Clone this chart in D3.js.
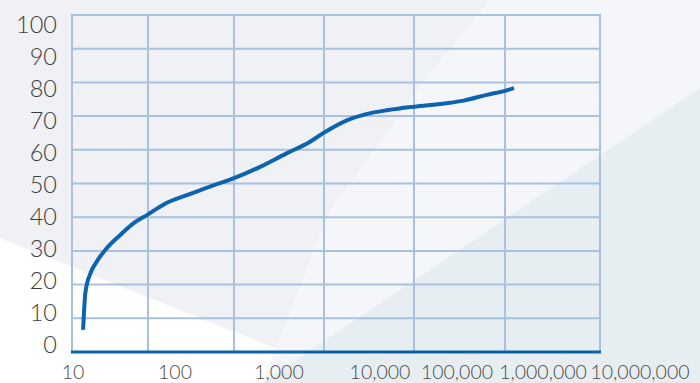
<!DOCTYPE html>
<html>
<head>
<meta charset="utf-8">
<script src="https://cdn.jsdelivr.net/npm/d3@7"></script>
<style>
  html, body { margin: 0; padding: 0; background: #eff1f5; }
  svg { display: block; }
  text { font-family: Lato, "Open Sans", sans-serif; font-weight: 300; }
</style>
</head>
<body>
<svg id="chart" width="700" height="383"></svg>
<script>
// Cumulative share (%) against size, log-scaled x
const sizes  = [14, 15, 17.6, 20.7, 28.9, 43.5, 65.5, 98, 158, 288, 526, 1000, 1900, 3750, 7000,
                10000, 18500, 29400, 51700, 100000, 224000, 352000, 628000, 1000000, 1244000];
const values = [6.6, 17.6, 23.5, 26.5, 30.9, 34.8, 38.3, 40.7, 44.0, 46.6, 49.1, 51.6, 54.8, 58.8, 62.4,
                65.1, 68.9, 70.6, 71.8, 72.8, 73.8, 74.6, 76.3, 77.5, 78.3];
const xTicks = [10, 100, 1000, 10000, 100000, 1000000, 10000000];
const yTicks = [0, 10, 20, 30, 40, 50, 60, 70, 80, 90, 100];

const svg = d3.select("#chart");

// decorative background facets
const bg = svg.append("g");
bg.append("rect").attr("width", 700).attr("height", 383).attr("fill", "#eff1f5");
const facet = (pts, fill) => bg.append("path")
  .attr("d", d3.line()(pts) + "Z").attr("fill", fill);
facet([[0, 238], [362, 383], [0, 383]], "#ffffff");
facet([[490, 0], [700, 0], [700, 88], [262, 383], [330, 210], [430, 73]], "#f4f6f9");
facet([[262, 383], [700, 88], [700, 383]], "#e7eef1");

// scales (grid cells are slightly uneven per decade)
const x = d3.scaleLog().domain(xTicks).range([72, 148, 234, 324, 414, 505, 600]);
const y = d3.scaleLinear().domain([0, 100]).range([352, 15]);
const xLabel = d3.scaleLog().domain(xTicks).range([73, 175, 279, 380, 457, 543, 640]);
const yLabel = d3.scaleLinear().domain([0, 100]).range([344.5, 25]);

// grid
const grid = svg.append("g").attr("stroke", "#a7c1df").attr("stroke-width", 2);
grid.selectAll("line.v").data(xTicks).join("line").attr("class", "v")
  .attr("x1", d => x(d)).attr("x2", d => x(d))
  .attr("y1", y(100)).attr("y2", y(0));
grid.selectAll("line.h").data(yTicks).join("line").attr("class", "h")
  .attr("x1", x(10) - 1).attr("x2", x(10000000) + 1)
  .attr("y1", d => y(d)).attr("y2", d => y(d));

// baseline
svg.append("line")
  .attr("x1", x(10) - 1).attr("x2", x(10000000) + 1)
  .attr("y1", y(0)).attr("y2", y(0))
  .attr("stroke", "#0b64a6").attr("stroke-width", 3);

// curve
svg.append("path")
  .datum(sizes.map((s, i) => [s, values[i]]))
  .attr("fill", "none")
  .attr("stroke", "#0d63ad")
  .attr("stroke-width", 4)
  .attr("d", d3.line().x(d => x(d[0])).y(d => y(d[1])).curve(d3.curveMonotoneX));

// axis labels
const fmt = d3.format(",");
svg.append("g").selectAll("text").data(yTicks).join("text")
  .attr("x", 57).attr("y", d => yLabel(d)).attr("dy", "0.36em")
  .attr("text-anchor", "end").attr("fill", "#3d3d3d").attr("font-size", 23.5)
  .text(d => d);
svg.append("g").selectAll("text").data(xTicks).join("text")
  .attr("x", d => xLabel(d)).attr("y", 378.5)
  .attr("text-anchor", "middle").attr("fill", "#4d4d4d").attr("font-size", 19.5)
  .text(d => fmt(d));
</script>
</body>
</html>
